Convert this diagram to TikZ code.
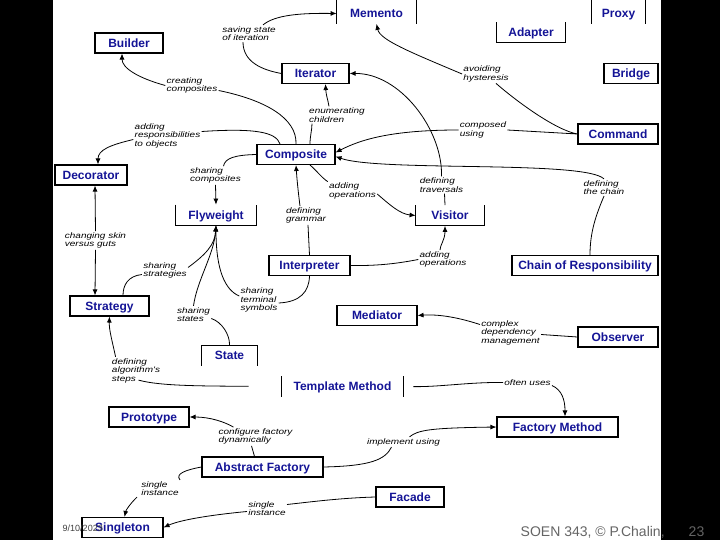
\documentclass[tikz,border=0pt]{standalone}
\usepackage{fontspec}
\usetikzlibrary{arrows.meta}

\newfontfamily\boxfont{Liberation Sans}
\newfontfamily\notefont{Liberation Sans}[FakeStretch=1.25]

\definecolor{patblue}{RGB}{20,20,150}
\definecolor{footgray}{RGB}{100,100,100}

\tikzset{
  pat/.style  = {text = patblue, font = \boxfont\bfseries\fontsize{12}{12}\selectfont,
                 minimum height = 20pt, text height = 8.6pt, text depth = 0pt, inner sep = 0pt},
  box/.style  = {pat, draw = black, line width = 1.1pt, fill = white},
  side/.style = {line width = 1.1pt},
  note/.style = {font = \notefont\itshape\fontsize{8}{8.5}\selectfont, align = left, inner sep = 1pt},
  foot/.style = {text = footgray, font = \boxfont\fontsize{14}{14}\selectfont, anchor = base west},
}

\begin{document}
\begin{tikzpicture}[x = 1pt, y = -1pt, line width = 0.8pt, >={Latex[length=6pt, width=5pt]}]
        \useasboundingbox (0, 0) rectangle (720, 540);
        \fill[black] (0, 0) rectangle (53, 540);
        \fill[black] (661, 0) rectangle (720, 540);

        % ------------------------------------------------------------------------
        % Patterns
        \node[pat, minimum width = 79pt] at (376.5, 13.5) (memento) {Memento};
        \node[pat, minimum width = 53pt] at (618.5, 13.5) (proxy) {Proxy};
        \node[pat, minimum width = 68pt] at (531, 32.5) (adapter) {Adapter};
        \node[box, minimum width = 68pt] at (129, 43) (builder) {Builder};
        \node[box, minimum width = 67pt] at (315.5, 73.5) (iterator) {Iterator};
        \node[box, minimum width = 54pt] at (631, 73.5) (bridge) {Bridge};
        \node[box, minimum width = 80pt] at (618, 134) (command) {Command};
        \node[box, minimum width = 78pt] at (296, 154.5) (composite) {Composite};
        \node[box, minimum width = 72pt] at (91, 175) (decorator) {Decorator};
        \node[pat, minimum width = 80pt] at (216, 215) (flyweight) {Flyweight};
        \node[pat, minimum width = 68pt] at (450, 215.5) (visitor) {Visitor};
        \node[box, minimum width = 81pt] at (309.5, 265.5) (interpreter) {Interpreter};
        \node[box, minimum width = 146pt] at (585, 265.5) (chain) {Chain of Responsibility};
        \node[box, minimum width = 79pt] at (109.5, 306) (strategy) {Strategy};
        \node[box, minimum width = 80pt] at (377, 315.5) (mediator) {Mediator};
        \node[box, minimum width = 80pt] at (618, 337) (observer) {Observer};
        \node[pat, minimum width = 55pt] at (229.5, 355.5) (state) {State};
        \node[pat, minimum width = 121pt] at (342.5, 386.5) (template) {Template Method};
        \node[box, minimum width = 80pt] at (149, 417) (prototype) {Prototype};
        \node[box, minimum width = 121pt] at (557.5, 427) (factory) {Factory Method};
        \node[box, minimum width = 121pt] at (262.5, 467) (abstract) {Abstract Factory};
        \node[box, minimum width = 68pt] at (410, 497) (facade) {Facade};
        \node[box, minimum width = 81pt] at (122.5, 527.5) (singleton) {Singleton};

        % open boxes
        \draw[side]
          (memento.south west) -- ++(0, -24)
          (memento.south east) -- ++(0, -24)
          (proxy.south west) -- ++(0, -24)
          (proxy.south east) -- ++(0, -24)
          (adapter.north west) -- (adapter.south west) -- (adapter.south east) -- (adapter.north east)
          (flyweight.north west) -- (flyweight.south west) -- (flyweight.south east) -- (flyweight.north east)
          (visitor.north west) -- (visitor.south west) -- (visitor.south east) -- (visitor.north east)
          (state.south west) -- (state.north west) -- (state.north east) -- (state.south east)
          (template.north west) -- (template.south west)
          (template.north east) -- (template.south east)
        ;

        % ------------------------------------------------------------------------
        % Relations
        \node[note] at (249, 33.5) (lsave) {saving state\\of iteration};
        \node[note] at (192, 85.5) (lcreate) {creating\\composites};
        \node[note] at (337, 115) (lenum) {enumerating\\children};
        \node[note] at (167.5, 135.5) (lresp) {adding\\responsibilities\\to objects};
        \node[note] at (486, 74) (lavoid) {avoiding\\hysteresis};
        \node[note] at (483, 130) (lcomposed) {composed\\using};
        \node[note] at (215.5, 175.5) (lshcomp) {sharing\\composites};
        \node[note] at (352.5, 191) (laddvis) {adding\\operations};
        \node[note] at (441.5, 185) (ltrav) {defining\\traversals};
        \node[note] at (604, 187.5) (lchain) {defining\\the chain};
        \node[note] at (95.5, 240.5) (lskin) {changing skin\\versus guts};
        \node[note] at (306, 215.5) (lgrammar) {defining\\grammar};
        \node[note] at (443, 259.5) (laddint) {adding\\operations};
        \node[note] at (165, 270.5) (lshstrat) {sharing\\strategies};
        \node[note] at (259, 300) (lshterm) {sharing\\terminal\\symbols};
        \node[note] at (193.5, 314.5) (lshstate) {sharing\\states};
        \node[note] at (510.5, 332.5) (lcomplex) {complex\\dependency\\management};
        \node[note] at (136, 370.5) (lalgo) {defining\\algorithm's\\steps};
        \node[note] at (527.5, 382.5) (loften) {often uses};
        \node[note] at (255.5, 436.5) (lconfig) {configure factory\\dynamically};
        \node[note] at (403.5, 442) (limpl) {implement using};
        \node[note] at (160, 488.5) (lsingaf) {single\\instance};
        \node[note] at (267, 508.5) (lsingfa) {single\\instance};

        \draw
          (iterator.west) .. controls (262, 70) and (243, 62) .. ([xshift=-6pt]lsave.south)
          (composite.north) .. controls (297, 118) and (265, 100) .. ([yshift=-5pt]lcreate.east)
          ([xshift=-16pt]composite.north) .. controls (276, 132) and (255, 128) .. ([yshift=4pt]lresp.east)
          ([xshift=14pt]composite.north) .. controls (310, 136) and (312, 130) .. ([xshift=-25pt]lenum.south)
          ([xshift=-5pt]visitor.north) -- ([xshift=3pt]ltrav.south)
          (command.west) .. controls (555, 130) and (515, 100) .. ([xshift=10pt]lavoid.south)
          (command.west) -- (lcomposed.east)
          ([xshift=5pt]chain.north) .. controls (590, 232) and (596, 215) .. (lchain.south)
          ([xshift=14pt]composite.south) .. controls (316, 170) and (322, 178) .. (laddvis.north west)
          (interpreter.north) -- ([xshift=2pt]lgrammar.south)
          (interpreter.east) .. controls (380, 266) and (400, 263) .. (laddint.west)
          (composite.west) .. controls (235, 155) and (225, 158) .. ([xshift=8pt]lshcomp.north)
          ([xshift=13.5pt]strategy.north) .. controls (123, 285) and (128, 276) .. ([yshift=-4pt]lshstrat.west)
          (state.north) .. controls (230, 335) and (222, 322) .. ([yshift=-4pt]lshstate.east)
          (interpreter.south) .. controls (309, 292) and (300, 302) .. ([yshift=-3pt]lshterm.east)
          ([xshift=-8pt]abstract.north) -- ([xshift=-4pt]lconfig.south)
          (abstract.east) .. controls (370, 466) and (385, 460) .. ([xshift=-12pt]limpl.south)
          (abstract.west) .. controls (185, 470) and (175, 474) .. (lsingaf.north east)
          (facade.west) .. controls (340, 498) and (310, 502) .. ([yshift=4pt]lsingfa.east)
          (observer.west) -- ([yshift=-2pt]lcomplex.east)
        ;
        \draw[shorten <= 33pt]
          (template.west) .. controls (200, 386) and (160, 386) .. ([xshift=28pt, yshift=4pt]lalgo.south west)
        ;
        \draw[shorten <= 10pt]
          (template.east) .. controls (440, 387) and (470, 382) .. (loften.west)
        ;

        \draw[->] ([xshift=14pt]lsave.north) .. controls (275, 15) and (300, 13) .. (memento.west);
        \draw[->] (lcreate.west) .. controls (138, 78) and (122, 68) .. ([xshift=-7pt]builder.south);
        \draw[->] ([yshift=-4pt]lresp.west) .. controls (110, 145) and (98, 150) .. ([xshift=7pt]decorator.north);
        \draw[->] ([xshift=-8pt]lenum.north) .. controls (328, 100) and (326, 95) .. ([xshift=10pt]iterator.south);
        \draw[->] (ltrav.north) .. controls (443, 130) and (400, 73) .. (iterator.east);
        \draw[->] (lavoid.west) .. controls (410, 52) and (380, 40) .. (memento.south);
        \draw[->] (lcomposed.west) .. controls (390, 130) and (360, 140) .. ([yshift=2pt]composite.east);
        \draw[->] (lchain.north) .. controls (585, 160) and (380, 172) .. ([yshift=-2pt]composite.east);
        \draw[->] ([yshift=-3pt]laddvis.east) .. controls (390, 205) and (400, 214) .. (visitor.west);
        \draw[->] ([xshift=-6pt]lgrammar.north) .. controls (298, 190) and (297, 180) .. (composite.south);
        \draw[->] ([xshift=-3pt]laddint.north) .. controls (440, 245) and (445, 240) .. ([xshift=-5pt]visitor.south);
        \draw[->] (lshcomp.south) -- (flyweight.north);
        \draw[->] ([yshift=3pt]lshstrat.east) .. controls (205, 255) and (215, 245) .. (flyweight.south);
        \draw[->] (lshstate.north) .. controls (197, 280) and (214, 255) .. (flyweight.south);
        \draw[->] ([yshift=4pt]lshterm.west) .. controls (225, 290) and (216, 270) .. (flyweight.south);
        \draw[->] ([xshift=5pt]lalgo.north west) .. controls (112, 340) and (109, 330) .. (strategy.south);
        \draw[->] ([yshift=-3pt]loften.east) .. controls (562, 390) and (565, 400) .. ([xshift=7.5pt]factory.north);
        \draw[->] ([xshift=-22pt]lconfig.north) .. controls (225, 422) and (210, 417) .. (prototype.east);
        \draw[->] ([xshift=6pt]limpl.north) .. controls (418, 430) and (430, 428) .. (factory.west);
        \draw[->] ([xshift=-3pt]lsingaf.south west) .. controls (130, 504) and (126, 510) .. ([xshift=2pt]singleton.north);
        \draw[->] ([yshift=-3pt]lsingfa.west) .. controls (210, 515) and (180, 520) .. (singleton.east);
        \draw[->] ([yshift=8pt]lcomplex.west) .. controls (460, 318) and (440, 314) .. (mediator.east);
        \draw[<-] ([xshift=4pt]decorator.south) -- (lskin.north);
        \draw[->] (lskin.south) -- ([xshift=-14.5pt]strategy.north);

        % ------------------------------------------------------------------------
        % Footer
        \node[foot, font = \boxfont\fontsize{9}{9}\selectfont, text = black!75] at (59, 531) (date) {9/10/2023};
        \node[foot] at (517, 536) (credit) {SOEN 343, \textcopyright{} P.Chalin,};
        \node[foot] at (685, 536) (page) {23};
      \end{tikzpicture}
\end{document}
